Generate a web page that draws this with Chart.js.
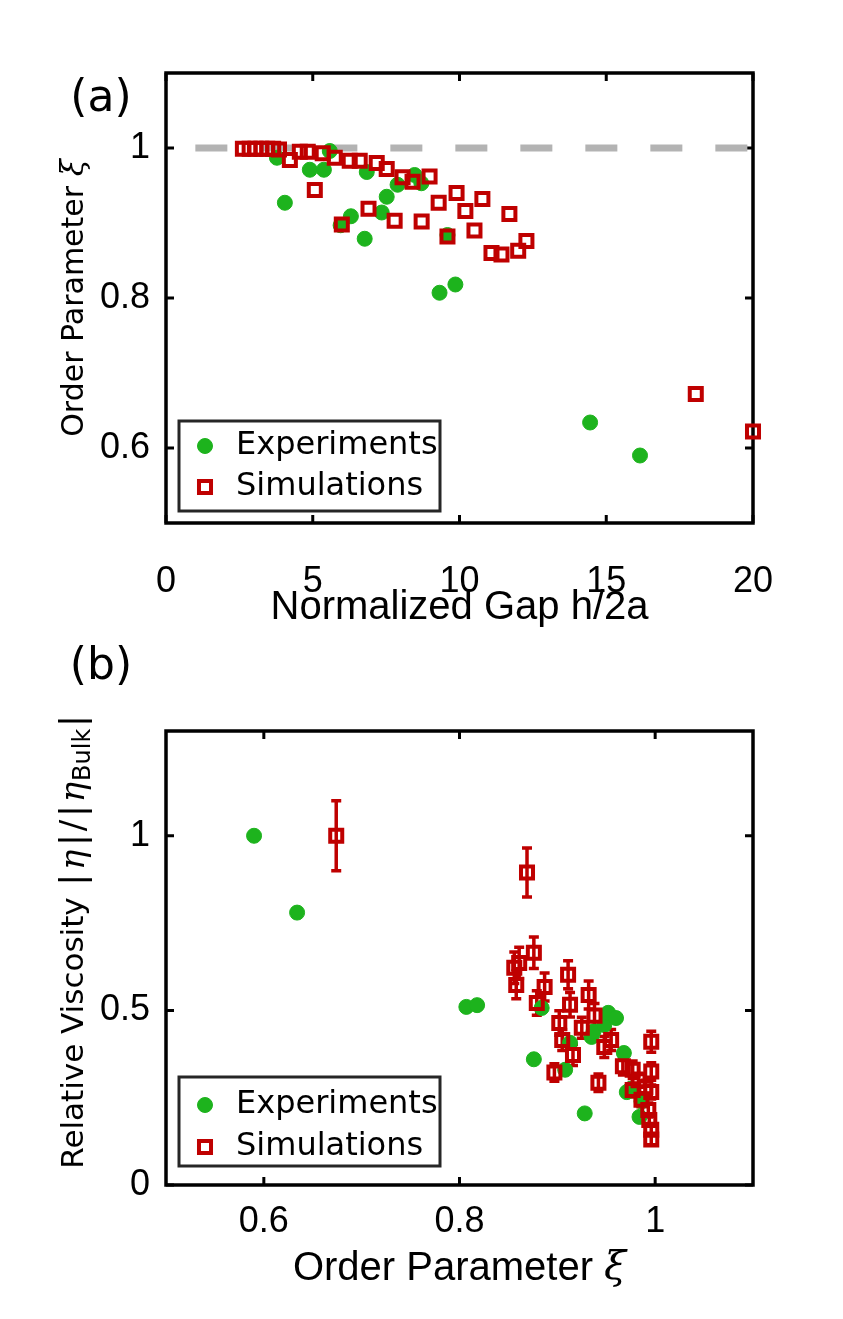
<!DOCTYPE html>
<html>
<head>
<meta charset="utf-8">
<script src="https://cdn.jsdelivr.net/npm/chart.js@4.4.1/dist/chart.umd.min.js"></script>
<style>
  html, body { margin: 0; padding: 0; background: #fff; }
  .panel { position: absolute; left: 0; width: 843px; }
  #wrapA { top: 0; height: 640px; }
  #wrapB { top: 640px; height: 679px; }
</style>
</head>
<body>
<div class="panel" id="wrapA"><canvas id="chartA"></canvas></div>
<div class="panel" id="wrapB"><canvas id="chartB"></canvas></div>
<script>
// ---- Panel (a): order parameter vs normalized gap ----
const gapExp = [3.78, 4.05, 4.9, 5.38, 5.58, 5.95, 6.3, 6.77, 6.84, 7.35, 7.52, 7.89, 8.47, 8.7, 9.32, 9.59, 9.86, 14.45, 16.15];
const xiExp = [0.987, 0.927, 0.971, 0.971, 0.996, 0.897, 0.909, 0.879, 0.968, 0.914, 0.935, 0.951, 0.964, 0.953, 0.807, 0.884, 0.818, 0.634, 0.59];

const gapSim = [2.62, 2.85, 3.05, 3.25, 3.45, 3.65, 3.85, 4.22, 4.56, 4.83, 5.07, 5.34, 5.75, 5.99, 6.26, 6.6, 6.9, 7.18, 7.52, 7.79, 8.06, 8.4, 8.71, 8.98, 9.29, 9.59, 9.9, 10.2, 10.51, 10.78, 11.09, 11.43, 11.7, 12.0, 12.28, 18.05, 20];
const xiSim = [0.999, 0.999, 0.999, 0.999, 0.999, 0.999, 0.998, 0.984, 0.995, 0.995, 0.944, 0.993, 0.987, 0.898, 0.983, 0.983, 0.919, 0.98, 0.972, 0.903, 0.961, 0.955, 0.902, 0.962, 0.927, 0.882, 0.94, 0.916, 0.89, 0.932, 0.86, 0.858, 0.912, 0.863, 0.876, 0.672, 0.622];

const bulkGap = [1, 20];
const bulkXi = [1, 1];

const gapTicks = [0, 5, 10, 15, 20];
const gapTickLabels = ['0', '5', '10', '15', '20'];
const xiTicksA = [0.6, 0.8, 1];
const xiTickLabelsA = ['0.6', '0.8', '1'];

// ---- Panel (b): relative viscosity vs order parameter ----
const xiExpB = [0.59, 0.634, 0.807, 0.818, 0.876, 0.884, 0.908, 0.913, 0.928, 0.935, 0.937, 0.948, 0.952, 0.96, 0.968, 0.971, 0.975, 0.984, 0.986];
const viscExp = [1.0, 0.78, 0.51, 0.515, 0.36, 0.507, 0.33, 0.407, 0.205, 0.424, 0.44, 0.458, 0.493, 0.478, 0.378, 0.266, 0.275, 0.195, 0.24];

const xiSimB = [0.674, 0.869, 0.856, 0.861, 0.876, 0.858, 0.911, 0.887, 0.879, 0.913, 0.932, 0.902, 0.938, 0.925, 0.905, 0.955, 0.948, 0.996, 0.916, 0.897, 0.942, 0.967, 0.977, 0.996, 0.983, 0.99, 0.977, 0.996, 0.986, 0.993, 0.994, 0.996, 0.996];
const viscSim = [1.0, 0.895, 0.622, 0.636, 0.665, 0.573, 0.602, 0.567, 0.521, 0.516, 0.544, 0.464, 0.485, 0.45, 0.415, 0.415, 0.395, 0.41, 0.372, 0.322, 0.293, 0.34, 0.33, 0.325, 0.3, 0.28, 0.272, 0.266, 0.244, 0.215, 0.186, 0.158, 0.13];
const viscErr = [0.1, 0.07, 0.045, 0.045, 0.045, 0.04, 0.04, 0.04, 0.035, 0.035, 0.04, 0.035, 0.035, 0.03, 0.03, 0.03, 0.03, 0.03, 0.03, 0.025, 0.025, 0.025, 0.025, 0.025, 0.02, 0.02, 0.02, 0.02, 0.02, 0.02, 0.015, 0.015, 0.015];

const xiTicksB = [0.6, 0.8, 1];
const xiTickLabelsB = ['0.6', '0.8', '1'];
const viscTicks = [0, 0.5, 1];
const viscTickLabels = ['0', '0.5', '1'];

const GREEN = '#1db31d';
const RED = '#bf0000';
const TICK_FONT = '"Liberation Sans", Arial, sans-serif';
const LABEL_FONT = '"DejaVu Sans", Verdana, sans-serif';
const MATH_FONT = 'italic 34px "DejaVu Serif", serif';

function toPoints(xs, ys) {
  return xs.map((x, i) => ({ x: x, y: ys[i] }));
}

// box around the axes with inward ticks (drawn below the data)
const framePlugin = {
  id: 'frame',
  beforeDatasetsDraw(chart) {
    const { ctx, chartArea: a, scales } = chart;
    ctx.save();
    ctx.strokeStyle = '#000';
    ctx.lineWidth = 3.5;
    ctx.strokeRect(a.left, a.top, a.right - a.left, a.bottom - a.top);
    ctx.lineWidth = 3;
    ctx.beginPath();
    scales.x.ticks.forEach(t => {
      const px = scales.x.getPixelForValue(t.value);
      ctx.moveTo(px, a.bottom); ctx.lineTo(px, a.bottom - 8);
      ctx.moveTo(px, a.top); ctx.lineTo(px, a.top + 8);
    });
    scales.y.ticks.forEach(t => {
      const py = scales.y.getPixelForValue(t.value);
      ctx.moveTo(a.left, py); ctx.lineTo(a.left + 8, py);
      ctx.moveTo(a.right, py); ctx.lineTo(a.right - 8, py);
    });
    ctx.stroke();
    ctx.restore();
  }
};

const errorBarPlugin = {
  id: 'errorBars',
  beforeDatasetsDraw(chart) {
    const { ctx, scales } = chart;
    chart.data.datasets.forEach(ds => {
      if (!ds.yErr) return;
      ctx.save();
      ctx.strokeStyle = ds.borderColor;
      ctx.lineWidth = 3.5;
      ctx.beginPath();
      ds.data.forEach((p, j) => {
        const e = ds.yErr[j];
        const px = scales.x.getPixelForValue(p.x);
        const top = scales.y.getPixelForValue(p.y + e);
        const bot = scales.y.getPixelForValue(p.y - e);
        ctx.moveTo(px, top); ctx.lineTo(px, bot);
        ctx.moveTo(px - 5, top); ctx.lineTo(px + 5, top);
        ctx.moveTo(px - 5, bot); ctx.lineTo(px + 5, bot);
      });
      ctx.stroke();
      ctx.restore();
    });
  }
};

// draw a run of text pieces (for italics / subscripts) centred on cx, cy
function drawRich(ctx, parts, cx, cy, rotate) {
  ctx.save();
  ctx.translate(cx, cy);
  if (rotate) ctx.rotate(-Math.PI / 2);
  ctx.textBaseline = 'middle';
  ctx.textAlign = 'left';
  let total = 0;
  parts.forEach(p => { ctx.font = p.font; p.w = ctx.measureText(p.text).width + (p.gap || 0); total += p.w; });
  let x = -total / 2;
  ctx.fillStyle = '#000';
  parts.forEach(p => {
    ctx.font = p.font;
    ctx.fillText(p.text, x + (p.gap || 0) / 2, p.dy || 0);
    x += p.w;
  });
  ctx.restore();
}

const labelPlugin = {
  id: 'labels',
  afterDraw(chart, args, opts) {
    const { ctx, chartArea: a } = chart;
    drawRich(ctx, [{ text: opts.panel, font: '44px ' + LABEL_FONT }], opts.panelX, opts.panelY, false);
    drawRich(ctx, opts.yTitle, opts.yTitleX, (a.top + a.bottom) / 2 + (opts.yShift || 0), true);
    if (opts.xTitle) drawRich(ctx, opts.xTitle, (a.left + a.right) / 2, opts.xTitleY, false);

    // legend box
    const x0 = a.left + 13, y1 = a.bottom - opts.legBottom, h = opts.legH, w = 261;
    ctx.save();
    ctx.fillStyle = '#fff';
    ctx.fillRect(x0, y1 - h, w, h);
    ctx.strokeStyle = '#262626';
    ctx.lineWidth = 3;
    ctx.strokeRect(x0, y1 - h, w, h);
    const rows = [
      { label: 'Experiments', y: y1 - h + opts.row1, style: 'circle', color: GREEN, r: 7.5, bw: 1 },
      { label: 'Simulations', y: y1 - h + opts.row2, style: 'rect', color: RED, r: 8.5, bw: 4 }
    ];
    rows.forEach(row => {
      ctx.fillStyle = row.style === 'circle' ? row.color : 'rgba(0,0,0,0)';
      ctx.strokeStyle = row.color;
      ctx.lineWidth = row.bw;
      Chart.helpers.drawPoint(ctx, { pointStyle: row.style, radius: row.r, borderWidth: row.bw, rotation: 0 }, x0 + 26, row.y);
      ctx.fillStyle = '#000';
      ctx.font = '32px ' + LABEL_FONT;
      ctx.textBaseline = 'middle';
      ctx.textAlign = 'left';
      ctx.fillText(row.label, x0 + 57, row.y);
    });
    ctx.restore();
  }
};

function fixedTicks(values) {
  return scale => { scale.ticks = values.map(v => ({ value: v })); };
}

function axisX(min, max, ticks, labels, title, height, titlePad, tickPad) {
  return {
    type: 'linear', min: min, max: max,
    afterBuildTicks: fixedTicks(ticks),
    afterFit: s => { s.height = height; },
    grid: { display: false, drawTicks: false },
    border: { display: false },
    ticks: { color: '#000', padding: tickPad, autoSkip: false, maxRotation: 0,
      font: { family: TICK_FONT, size: 36 },
      callback: (v, i) => labels[i] },
    title: { display: !!title, text: title, color: '#000', padding: { top: 0, bottom: titlePad },
      font: { family: TICK_FONT, size: 40 } }
  };
}

function axisY(min, max, ticks, labels) {
  return {
    type: 'linear', min: min, max: max,
    afterBuildTicks: fixedTicks(ticks),
    afterFit: s => { s.width = 166; },
    grid: { display: false, drawTicks: false },
    border: { display: false },
    ticks: { color: '#000', padding: 16, autoSkip: false,
      font: { family: TICK_FONT, size: 36 },
      callback: (v, i) => labels[i] }
  };
}

const expStyle = { pointStyle: 'circle', pointRadius: 7.5, pointBorderWidth: 1,
  backgroundColor: GREEN, borderColor: GREEN, order: 2, clip: false };
const simStyle = { pointStyle: 'rect', pointRadius: 8.5, pointBorderWidth: 4,
  backgroundColor: 'rgba(0,0,0,0)', borderColor: RED, order: 1, clip: false };

// ---- Render Block ----
const chartA = new Chart(document.getElementById('chartA'), {
  type: 'scatter',
  data: {
    datasets: [
      Object.assign({ label: 'Experiments', data: toPoints(gapExp, xiExp) }, expStyle),
      Object.assign({ label: 'Simulations', data: toPoints(gapSim, xiSim) }, simStyle),
      { label: 'Bulk', data: toPoints(bulkGap, bulkXi), showLine: true, pointRadius: 0,
        borderColor: '#b3b3b3', borderWidth: 7, borderDash: [32, 33], order: 3 }
    ]
  },
  options: {
    responsive: true, maintainAspectRatio: false, animation: false, events: [],
    layout: { padding: { left: 0, right: 90, top: 73, bottom: 0 } },
    scales: {
      x: axisX(0, 20, gapTicks, gapTickLabels, 'Normalized Gap h/2a', 117, 8, 37),
      y: axisY(0.5, 1.1, xiTicksA, xiTickLabelsA)
    },
    plugins: {
      legend: { display: false }, tooltip: { enabled: false },
      labels: {
        panel: '(a)', panelX: 101, panelY: 100, yTitleX: 75,
        yTitle: [
          { text: 'Order Parameter ', font: '30px ' + LABEL_FONT },
          { text: '\u03be', font: 'italic 31px "DejaVu Serif", serif' }
        ],
        legBottom: 12, legH: 90, row1: 25, row2: 66
      }
    }
  },
  plugins: [framePlugin, errorBarPlugin, labelPlugin]
});

const chartB = new Chart(document.getElementById('chartB'), {
  type: 'scatter',
  data: {
    datasets: [
      Object.assign({ label: 'Experiments', data: toPoints(xiExpB, viscExp) }, expStyle),
      Object.assign({ label: 'Simulations', data: toPoints(xiSimB, viscSim), yErr: viscErr }, simStyle)
    ]
  },
  options: {
    responsive: true, maintainAspectRatio: false, animation: false, events: [],
    layout: { padding: { left: 0, right: 90, top: 91, bottom: 0 } },
    scales: {
      x: axisX(0.5, 1.1, xiTicksB, xiTickLabelsB, '', 134, 27, 15),
      y: axisY(0, 1.3, viscTicks, viscTickLabels)
    },
    plugins: {
      legend: { display: false }, tooltip: { enabled: false },
      labels: {
        panel: '(b)', panelX: 101, panelY: 28, yTitleX: 75, yShift: -17,
        xTitleY: 629,
        xTitle: [
          { text: 'Order Parameter ', font: '40px ' + TICK_FONT },
          { text: '\u03be', font: 'italic 40px "DejaVu Serif", serif' }
        ],
        yTitle: [
          { text: 'Relative Viscosity ', font: '31px ' + LABEL_FONT },
          { text: '|', font: '34px ' + LABEL_FONT, gap: 4 },
          { text: '\u03b7', font: MATH_FONT, gap: 4 },
          { text: '|', font: '34px ' + LABEL_FONT, gap: 4 },
          { text: '/', font: '34px ' + LABEL_FONT, gap: 2 },
          { text: '|', font: '34px ' + LABEL_FONT, gap: 4 },
          { text: '\u03b7', font: MATH_FONT, gap: 2 },
          { text: 'Bulk', font: '24px ' + LABEL_FONT, dy: 9 },
          { text: '|', font: '34px ' + LABEL_FONT, gap: 4 }
        ],
        legBottom: 19, legH: 89, row1: 28, row2: 70
      }
    }
  },
  plugins: [framePlugin, errorBarPlugin, labelPlugin]
});
</script>
</body>
</html>
